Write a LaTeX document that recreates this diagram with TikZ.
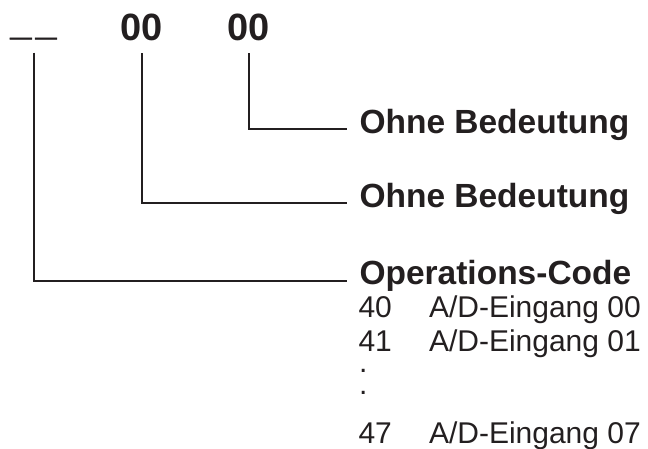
\documentclass[tikz,border=0pt]{standalone}
\usepackage{fontspec}
\setmainfont{Liberation Sans}
\definecolor{ink}{RGB}{35,31,32}
\begin{document}
\begin{tikzpicture}[x=1pt, y=-1pt, line width=2pt, color=ink,
  field/.style={font=\fontsize{38}{38}\selectfont\bfseries, inner sep=0pt, text depth=12pt, anchor=base},
  meaning/.style={font=\fontsize{33.5}{33.5}\selectfont\bfseries, inner xsep=11.5pt, inner ysep=0pt, anchor=base west},
  codeitem/.style={font=\fontsize{30}{30}\selectfont, inner sep=0pt, anchor=base west}]
\useasboundingbox (0,0) rectangle (648,448);
% the three fields of the command word
\node[field, text depth=17pt] (opc) at (33.5,34.7) {\addfontfeature{FakeBold=1.5}\_\kern4pt\_};
\node[field] (fa) at (141.5,40) {00};
\node[field] (fb) at (249,40) {00};
% what they mean
\node[meaning] (lb) at (347,133) {Ohne Bedeutung};
\node[meaning] (la) at (347,207) {Ohne Bedeutung};
\node[meaning] (lop) at (347,284) {Operations-Code};
\draw (fb.south) |- ([yshift=4pt]lb.base west);
\draw (fa.south) |- ([yshift=4pt]la.base west);
\draw (opc.south) |- ([yshift=3pt]lop.base west);
% list of codes
\node[codeitem] (c40) at (357.5,317) {40};
\node[codeitem] (t40) at (428,317) {A/D-Eingang 00};
\node[codeitem] (c41) at (357.5,351) {41};
\node[codeitem] (t41) at (428,351) {A/D-Eingang 01};
\node[codeitem] (d1) at (358,372.5) {.};
\node[codeitem] (d2) at (358,394.5) {.};
\node[codeitem] (c47) at (357.5,443) {47};
\node[codeitem] (t47) at (428,443) {A/D-Eingang 07};
\end{tikzpicture}
\end{document}
